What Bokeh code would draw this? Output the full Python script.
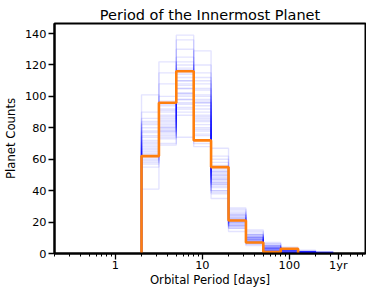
from bokeh.plotting import figure
from bokeh.models import FixedTicker, Range1d
from bokeh.embed import file_html
from bokeh.resources import INLINE

# Histogram bin edges (days), log-spaced
bin_edges = [2.0, 3.17, 5.02, 7.96, 12.6, 20.0, 31.7, 50.2, 79.6, 126.0, 200.0, 317.0]

# Observed (orange) counts for the first 9 bins
observed_counts = [62, 96, 116, 72, 55, 21, 7, 1, 3]

# Simulated (blue) histogram counts, one row per draw (11 bins each)
sample_counts = [
    [62, 80, 105, 96, 48, 20, 9, 3, 2, 1, 0],
    [70, 85, 110, 88, 45, 22, 10, 4, 1, 1, 0],
    [84, 78, 98, 112, 52, 18, 8, 2, 2, 0, 1],
    [58, 92, 120, 80, 40, 24, 11, 5, 1, 1, 0],
    [101, 75, 95, 100, 55, 17, 7, 3, 3, 1, 0],
    [66, 122, 102, 85, 43, 26, 12, 2, 1, 0, 0],
    [75, 88, 139, 78, 50, 21, 9, 4, 2, 1, 1],
    [60, 70, 108, 129, 38, 19, 6, 6, 1, 1, 0],
    [41, 95, 115, 92, 60, 23, 13, 3, 2, 2, 0],
    [80, 82, 90, 105, 47, 29, 10, 1, 3, 1, 0],
    [68, 76, 112, 70, 67, 16, 8, 4, 1, 0, 0],
    [63, 100, 125, 96, 44, 20, 15, 2, 2, 1, 1],
    [72, 79, 100, 115, 53, 14, 7, 5, 4, 1, 0],
    [90, 86, 118, 82, 35, 22, 9, 3, 1, 1, 0],
    [55, 73, 93, 98, 49, 25, 11, 7, 2, 0, 0],
    [78, 90, 105, 75, 46, 18, 5, 2, 1, 1, 0],
    [64, 84, 136, 90, 56, 21, 10, 4, 2, 1, 0],
    [82, 69, 96, 108, 42, 27, 12, 3, 1, 2, 1],
    [57, 108, 110, 68, 51, 19, 8, 2, 3, 1, 0],
    [74, 77, 88, 120, 45, 23, 9, 5, 1, 0, 0],
    [67, 94, 130, 84, 58, 17, 14, 3, 2, 1, 0],
    [62, 81, 102, 94, 40, 20, 7, 4, 1, 1, 0],
    [86, 87, 74, 101, 54, 24, 10, 1, 2, 1, 0],
    [69, 115, 107, 79, 47, 16, 8, 6, 1, 1, 1],
    [61, 80, 122, 110, 62, 21, 11, 2, 2, 0, 0],
    [77, 91, 98, 87, 44, 28, 9, 3, 1, 1, 0],
    [65, 74, 114, 97, 50, 18, 6, 4, 3, 1, 0],
    [83, 83, 92, 76, 39, 22, 12, 2, 1, 1, 0],
    [59, 97, 117, 104, 48, 20, 8, 5, 2, 1, 0],
    [71, 78, 101, 86, 52, 25, 10, 3, 1, 1, 0],
]

x_major_ticks = [1, 10, 100, 365]
x_major_labels = ["1", "10", "100", "1yr"]
x_minor_ticks = [0.2, 0.3, 0.4, 0.5, 0.6, 0.7, 0.8, 0.9,
                 2, 3, 4, 5, 6, 7, 8, 9,
                 20, 30, 40, 50, 60, 70, 80, 90,
                 200, 300, 400, 500, 600, 700]
y_ticks = [0, 20, 40, 60, 80, 100, 120, 140]

FONT = "DejaVu Sans"

p = figure(width=366, height=289, x_axis_type="log",
           x_range=Range1d(0.2, 750), y_range=Range1d(0, 146.4),
           output_backend="svg", toolbar_location=None,
           title="Period of the Innermost Planet",
           min_border_left=54, min_border_right=1, min_border_top=23,
           min_border_bottom=35)

p.title.text_font = FONT
p.title.text_font_size = "14.5px"
p.title.text_font_style = "normal"
p.title.text_color = "black"
p.title.align = "center"
p.title.standoff = 1
p.title.offset = 0

p.grid.visible = False
p.background_fill_color = "white"
p.border_fill_color = "white"
p.outline_line_color = "black"
p.outline_line_width = 2
p.outline_line_alpha = 1

for ax in (p.xaxis[0], p.yaxis[0]):
    ax.axis_line_width = 2
    ax.axis_line_color = "black"
    ax.major_tick_line_width = 1.3
    ax.minor_tick_line_width = 1
    ax.major_tick_in = 0
    ax.major_tick_out = 6
    ax.minor_tick_in = 0
    ax.minor_tick_out = 3
    ax.major_label_text_font = FONT
    ax.major_label_text_font_size = "11.3px"
    ax.major_label_text_color = "black"
    ax.axis_label_text_font = FONT
    ax.axis_label_text_font_size = "11.7px"
    ax.axis_label_text_font_style = "normal"
    ax.axis_label_text_color = "black"

p.xaxis.ticker = FixedTicker(ticks=x_major_ticks, minor_ticks=x_minor_ticks)
p.xaxis.major_label_overrides = {t: lab for t, lab in zip(x_major_ticks, x_major_labels)}
p.xaxis.axis_label = "Orbital Period [days]"
p.xaxis.major_label_standoff = -1
p.xaxis.axis_label_standoff = -2

p.yaxis.ticker = FixedTicker(ticks=y_ticks, minor_ticks=[])
p.yaxis.axis_label = "Planet Counts"
p.yaxis.major_label_standoff = 2
p.yaxis.axis_label_standoff = 4

# Blue simulated histograms (step outlines)
for counts in sample_counts:
    xs = [bin_edges[0]] + bin_edges
    ys = [0] + counts + [0]
    p.step(xs, ys, mode="after", line_color="#0000ff", line_alpha=0.11, line_width=1.4)

# Orange observed histogram
obs_edges = bin_edges[:len(observed_counts) + 1]
p.step([obs_edges[0]] + obs_edges, [0] + observed_counts + [0], mode="after",
       line_color="#ff7f0e", line_width=2.6)

open("out.html", "w").write(file_html(p, INLINE))
